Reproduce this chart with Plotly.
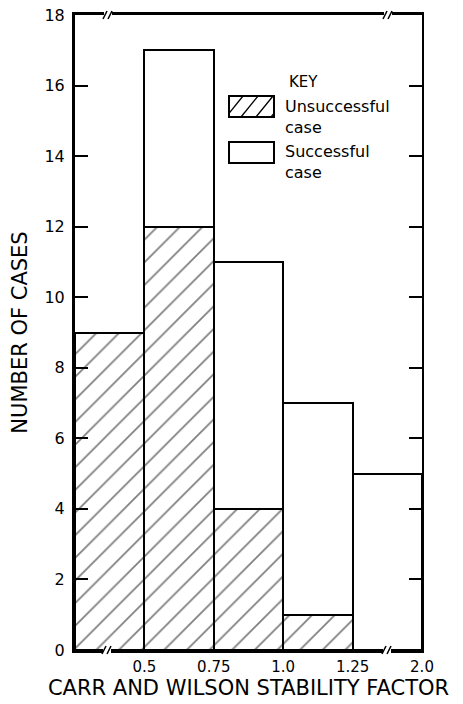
import plotly.graph_objects as go

# ---- data ----
bins = ["<0.5", "0.5-0.75", "0.75-1.0", "1.0-1.25", "1.25-2.0"]
bin_centers = [0.5, 1.5, 2.5, 3.5, 4.5]
unsuccessful = [9, 12, 4, 1, 0]
successful = [0, 5, 7, 6, 5]
x_tick_vals = [1, 2, 3, 4, 5]
x_tick_labels = ["0.5", "0.75", "1.0", "1.25", "2.0"]
y_tick_vals = [0, 2, 4, 6, 8, 10, 12, 14, 16, 18]

W, H = 463, 704
L, R, T, B = 75, 41, 15, 54
PW, PH = W - L - R, H - T - B

def px(x):
    return (x - L) / PW

def py(y):
    return (H - B - y) / PH

FONT = "DejaVu Sans"

fig = go.Figure()
fig.add_trace(go.Bar(
    x=bin_centers, y=unsuccessful, width=1, name="Unsuccessful case",
    marker=dict(color="white", line=dict(color="black", width=2.5),
                pattern=dict(shape="/", fgcolor="black", bgcolor="white",
                             size=16, solidity=0.11)),
    showlegend=False, hovertext=bins,
))
fig.add_trace(go.Bar(
    x=bin_centers, y=successful, width=1, name="Successful case",
    marker=dict(color="white", line=dict(color="black", width=2.5)),
    showlegend=False, hovertext=bins,
))
# invisible trace to carry the right-hand mirrored axis
fig.add_trace(go.Scatter(x=[0], y=[0], yaxis="y2", mode="markers",
                         marker=dict(opacity=0), showlegend=False, hoverinfo="skip"))

shapes = []
# legend boxes
bx0, bx1 = 229, 274
for (y0, y1) in [(96, 117), (142, 163)]:
    shapes.append(dict(type="rect", xref="paper", yref="paper",
                       x0=px(bx0), x1=px(bx1), y0=py(y1), y1=py(y0),
                       line=dict(color="black", width=2), fillcolor="white", layer="above"))
# hatch lines in key box
for xs in [226, 241, 256, 271]:
    x_a, y_a = xs, 117
    x_b, y_b = xs + 17, 96
    if x_a < bx0:
        t = (bx0 - x_a) / (x_b - x_a)
        x_a, y_a = bx0, y_a + t * (y_b - y_a)
    if x_b > bx1:
        t = (bx1 - x_a) / (x_b - x_a)
        x_b, y_b = bx1, y_a + t * (y_b - y_a)
    if x_b > x_a:
        shapes.append(dict(type="line", xref="paper", yref="paper",
                           x0=px(x_a), y0=py(y_a), x1=px(x_b), y1=py(y_b),
                           line=dict(color="black", width=1.3), layer="above"))

# axis break marks on top and bottom axes
for (bx, by) in [(108, T), (388, T), (107, H - B), (387, H - B)]:
    shapes.append(dict(type="rect", xref="paper", yref="paper",
                       x0=px(bx - 4), x1=px(bx + 4), y0=py(by + 3), y1=py(by - 3),
                       line=dict(width=0), fillcolor="white", layer="above"))
    for dx in (-3, 2):
        shapes.append(dict(type="line", xref="paper", yref="paper",
                           x0=px(bx + dx - 2), y0=py(by + 4), x1=px(bx + dx + 2), y1=py(by - 4),
                           line=dict(color="black", width=1.5), layer="above"))

annotations = [
    dict(text="KEY", xref="paper", yref="paper", x=px(287), y=py(82), xanchor="left",
         yanchor="middle", showarrow=False, font=dict(family=FONT, size=15, color="black")),
    dict(text="Unsuccessful<br>case", xref="paper", yref="paper", x=px(283), y=py(117),
         xanchor="left", yanchor="middle", align="left", showarrow=False,
         font=dict(family=FONT, size=16, color="black")),
    dict(text="Successful<br>case", xref="paper", yref="paper", x=px(283), y=py(162),
         xanchor="left", yanchor="middle", align="left", showarrow=False,
         font=dict(family=FONT, size=16, color="black")),
]

fig.update_layout(
    width=W, height=H, barmode="stack", bargap=0,
    margin=dict(l=L, r=R, t=T, b=B, autoexpand=False),
    paper_bgcolor="white", plot_bgcolor="white",
    font=dict(family=FONT, color="black"),
    shapes=shapes, annotations=annotations,
    xaxis=dict(range=[0, 5], tickvals=x_tick_vals, ticktext=x_tick_labels,
               showgrid=False, zeroline=False, showline=True, mirror=True,
               linecolor="black", linewidth=2.5, ticks="",
               tickfont=dict(size=15), ticklabelstandoff=1,
               title=dict(text="CARR AND WILSON STABILITY FACTOR",
                          font=dict(size=21), standoff=2)),
    yaxis=dict(range=[0, 18], tickvals=y_tick_vals, showgrid=False, zeroline=False,
               showline=True, linecolor="black", linewidth=3,
               ticks="inside", ticklen=13, tickwidth=1.5, tickcolor="black",
               tickfont=dict(size=16), ticklabelstandoff=4,
               title=dict(text="NUMBER OF CASES", font=dict(size=21), standoff=12)),
    yaxis2=dict(range=[0, 18], tickvals=y_tick_vals, overlaying="y", side="right",
                showgrid=False, zeroline=False, showline=True, linecolor="black",
                linewidth=1.5, ticks="inside", ticklen=13, tickwidth=1.5,
                tickcolor="black", showticklabels=False),
)

fig.write_html("out.html", post_script="document.body.style.margin='0';",
               config={"displayModeBar": False})
